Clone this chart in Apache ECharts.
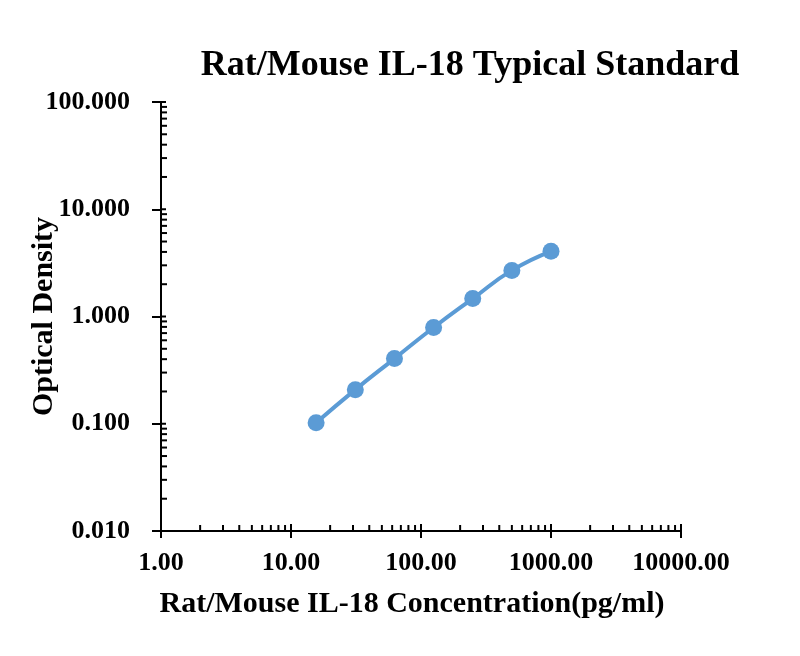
<!DOCTYPE html>
<html>
<head>
<meta charset="utf-8">
<script src="https://cdn.jsdelivr.net/npm/echarts@6/dist/echarts.min.js"></script>
<style>
  html, body { margin: 0; padding: 0; background: #fff; }
  #chart { width: 800px; height: 656px; }
</style>
</head>
<body>
<div id="chart"></div>
<script>
// Standard curve data
var concentrations = [15.6, 31.25, 62.5, 125, 250, 500, 1000];
var densities = [0.102, 0.208, 0.405, 0.79, 1.47, 2.69, 4.05];

// Axis ranges
var xRange = [1, 10000];
var yRange = [0.01, 100];

var FONT = '"Liberation Serif", "Times New Roman", serif';

// tick positions for the inside ticks (majors plus 2..9 minors per decade)
function decadeTicks(lo, hi) {
  var out = [];
  for (var d = lo; d < hi; d *= 10) {
    for (var m = 1; m <= 9; m++) out.push({ v: d * m, major: m === 1 });
  }
  out.push({ v: hi, major: true });
  return out;
}
var xTicks = decadeTicks(xRange[0], xRange[1]).map(function (t) { return [t.v, yRange[0], t.major ? 1 : 0]; });
var yTicks = decadeTicks(yRange[0], yRange[1]).map(function (t) { return [xRange[0], t.v, t.major ? 1 : 0]; });

var chart = echarts.init(document.getElementById('chart'));

var option = {
  animation: false,
  title: {
    text: 'Rat/Mouse IL-18 Typical Standard',
    left: 465,
    textAlign: 'center',
    top: 43,
    textStyle: { fontFamily: FONT, fontWeight: 'bold', fontSize: 36, color: '#000' }
  },
  grid: { left: 161, right: 119, top: 102, bottom: 125, outerBoundsMode: 'none', containLabel: false },
  xAxis: {
    type: 'log',
    logBase: 10,
    min: xRange[0],
    max: xRange[1],
    name: 'Rat/Mouse IL-18 Concentration(pg/ml)',
    nameLocation: 'middle',
    nameGap: 58,
    nameTextStyle: { fontFamily: FONT, fontWeight: 'bold', fontSize: 30, color: '#000', padding: [0, 18, 0, 0] },
    axisLine: { lineStyle: { color: '#000', width: 2 } },
    axisTick: { show: true, length: 7, lineStyle: { color: '#000', width: 2 } },
    axisLabel: {
      margin: 19,
      fontFamily: FONT, fontWeight: 'bold', fontSize: 26, color: '#000',
      formatter: function (v) { return v.toFixed(2); }
    },
    splitLine: { show: false }
  },
  yAxis: {
    type: 'log',
    logBase: 10,
    min: yRange[0],
    max: yRange[1],
    name: 'Optical Density',
    nameLocation: 'middle',
    nameGap: 102,
    nameRotate: 90,
    nameMoveOverlap: false,
    nameTextStyle: { fontFamily: FONT, fontWeight: 'bold', fontSize: 30, color: '#000' },
    axisLine: { lineStyle: { color: '#000', width: 2 } },
    axisTick: { show: true, length: 9, lineStyle: { color: '#000', width: 2 } },
    axisLabel: {
      margin: 31,
      fontFamily: FONT, fontWeight: 'bold', fontSize: 26, color: '#000',
      formatter: function (v) { return v.toFixed(3); }
    },
    splitLine: { show: false }
  },
  series: [
    {
      // inside ticks on the x axis
      type: 'custom',
      silent: true,
      clip: false,
      data: xTicks,
      renderItem: function (params, api) {
        var p = api.coord([api.value(0), api.value(1)]);
        var len = api.value(2) ? 7 : 6;
        return {
          type: 'line',
          shape: { x1: p[0], y1: p[1], x2: p[0], y2: p[1] - len },
          style: { stroke: '#000', lineWidth: 2 }
        };
      }
    },
    {
      // inside ticks on the y axis
      type: 'custom',
      silent: true,
      clip: false,
      data: yTicks,
      renderItem: function (params, api) {
        var p = api.coord([api.value(0), api.value(1)]);
        var len = api.value(2) ? 5 : 6;
        return {
          type: 'line',
          shape: { x1: p[0], y1: p[1], x2: p[0] + len, y2: p[1] },
          style: { stroke: '#000', lineWidth: 2 }
        };
      }
    },
    {
      name: 'Standard',
      type: 'line',
      smooth: true,
      data: concentrations.map(function (c, i) { return [c, densities[i]]; }),
      symbol: 'circle',
      symbolSize: 17,
      lineStyle: { color: '#5B9BD5', width: 4 },
      itemStyle: { color: '#5B9BD5' },
      z: 5
    }
  ]
};

chart.setOption(option);
</script>
</body>
</html>
